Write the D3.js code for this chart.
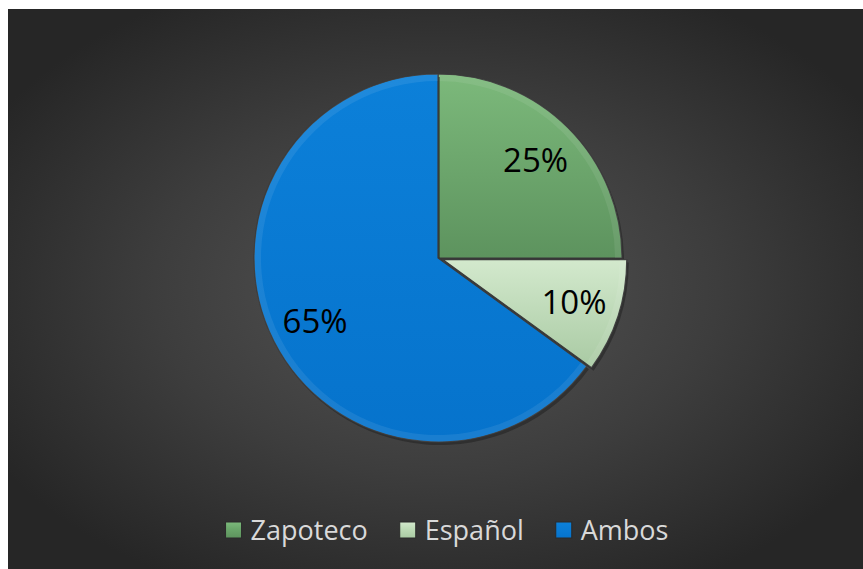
<!DOCTYPE html>
<html>
<head>
<meta charset="utf-8">
<script src="https://cdn.jsdelivr.net/npm/d3@7"></script>
<style>
  html, body { margin: 0; padding: 0; background: #fff; }
  svg { display: block; }
</style>
</head>
<body>
<div id="chart"></div>
<script>
// Pie of language use: Zapoteco / Español / Ambos, dark bevel style.

const categories = ['Zapoteco', 'Español', 'Ambos'];
const shares = [25, 10, 65];
const labels = ['25%', '10%', '65%'];
const colors = ['#6aa66a', '#bddbb6', '#0a7bd4'];
const lightColors = ['#7cb97b', '#d3e9cd', '#0c80d9'];
const darkColors = ['#5d935e', '#a9caa3', '#0673cc'];
const explode = [0, 5, 0];

const W = 863, H = 569;
const cx = 438, cy = 258, R = 184;

const svg = d3.select('#chart').append('svg')
  .attr('width', W).attr('height', H)
  .attr('viewBox', `0 0 ${W} ${H}`);

const defs = svg.append('defs');

// background
const bg = defs.append('radialGradient').attr('id', 'bg')
  .attr('cx', '0.5').attr('cy', '0.5').attr('r', '0.6');
bg.append('stop').attr('offset', '0').attr('stop-color', '#555555');
bg.append('stop').attr('offset', '0.55').attr('stop-color', '#3d3d3d');
bg.append('stop').attr('offset', '1').attr('stop-color', '#262626');

svg.append('rect').attr('x', 8).attr('y', 9).attr('width', W - 8).attr('height', H - 9)
  .attr('fill', 'url(#bg)');

// slice gradients
categories.forEach((c, i) => {
  const g = defs.append('linearGradient').attr('id', 'sl' + i)
    .attr('x1', 0).attr('y1', 0).attr('x2', 0).attr('y2', 1);
  g.append('stop').attr('offset', 0).attr('stop-color', lightColors[i]);
  g.append('stop').attr('offset', 1).attr('stop-color', darkColors[i]);
  const m = defs.append('linearGradient').attr('id', 'mk' + i)
    .attr('x1', 0).attr('y1', 0).attr('x2', 0).attr('y2', 1);
  m.append('stop').attr('offset', 0).attr('stop-color', lightColors[i]);
  m.append('stop').attr('offset', 0.45).attr('stop-color', colors[i]);
  m.append('stop').attr('offset', 1).attr('stop-color', darkColors[i]);
});

const pie = d3.pie().sort(null).value((d) => d);
const arcs = pie(shares);

const arc = d3.arc().innerRadius(0).outerRadius(R);
const rim = d3.arc().innerRadius(R - 7).outerRadius(R);
const labelArc = d3.arc().innerRadius(R * 0.75).outerRadius(R * 0.75);

const pieG = svg.append('g').attr('transform', `translate(${cx},${cy})`);

const slices = pieG.selectAll('g.slice').data(arcs).enter().append('g')
  .attr('class', 'slice')
  .attr('transform', (d, i) => {
    const a = (d.startAngle + d.endAngle) / 2;
    return `translate(${Math.sin(a) * explode[i]},${-Math.cos(a) * explode[i]})`;
  });

// shadow
slices.append('path')
  .attr('d', arc)
  .attr('transform', 'translate(2,3)')
  .attr('fill', '#1e1e1e').attr('opacity', 0.5);

slices.append('path')
  .attr('d', arc)
  .attr('fill', (d) => `url(#sl${d.index})`)
  .attr('stroke', '#3a3a3a').attr('stroke-width', 1.2);

// bevel rim
slices.append('path')
  .attr('d', rim)
  .attr('fill', '#ffffff').attr('opacity', 0.08);

pieG.selectAll('text.pct').data(arcs).enter().append('text')
  .attr('class', 'pct')
  .attr('transform', (d, i) => {
    const [x, y] = labelArc.centroid(d);
    const a = (d.startAngle + d.endAngle) / 2;
    return `translate(${x + Math.sin(a) * explode[i]},${y - Math.cos(a) * explode[i]})`;
  })
  .attr('text-anchor', 'middle').attr('dy', '0.36em')
  .style('font-family', '"Open Sans", sans-serif').style('font-size', '33px')
  .attr('fill', '#000')
  .text((d, i) => labels[i]);

// legend
const legend = svg.append('g');
const items = legend.selectAll('g').data(categories).enter().append('g');
const mk = 16, gap = 9, spacing = 32;
items.append('rect')
  .attr('width', mk).attr('height', mk).attr('y', -mk / 2)
  .attr('fill', (d, i) => `url(#mk${i})`)
  .attr('stroke', '#2a2a2a').attr('stroke-width', 1);
items.append('text')
  .attr('x', mk + gap).attr('dy', '0.36em')
  .style('font-family', '"Open Sans", sans-serif').style('font-size', '27px')
  .attr('fill', '#d9d9d9')
  .text((d) => d);

let x = 0;
const widths = [];
items.each(function () { widths.push(this.getBBox().width); });
items.attr('transform', (d, i) => {
  const t = `translate(${x},0)`;
  x += widths[i] + spacing;
  return t;
});
const total = x - spacing;
legend.attr('transform', `translate(${447 - total / 2},530)`);
</script>
</body>
</html>
